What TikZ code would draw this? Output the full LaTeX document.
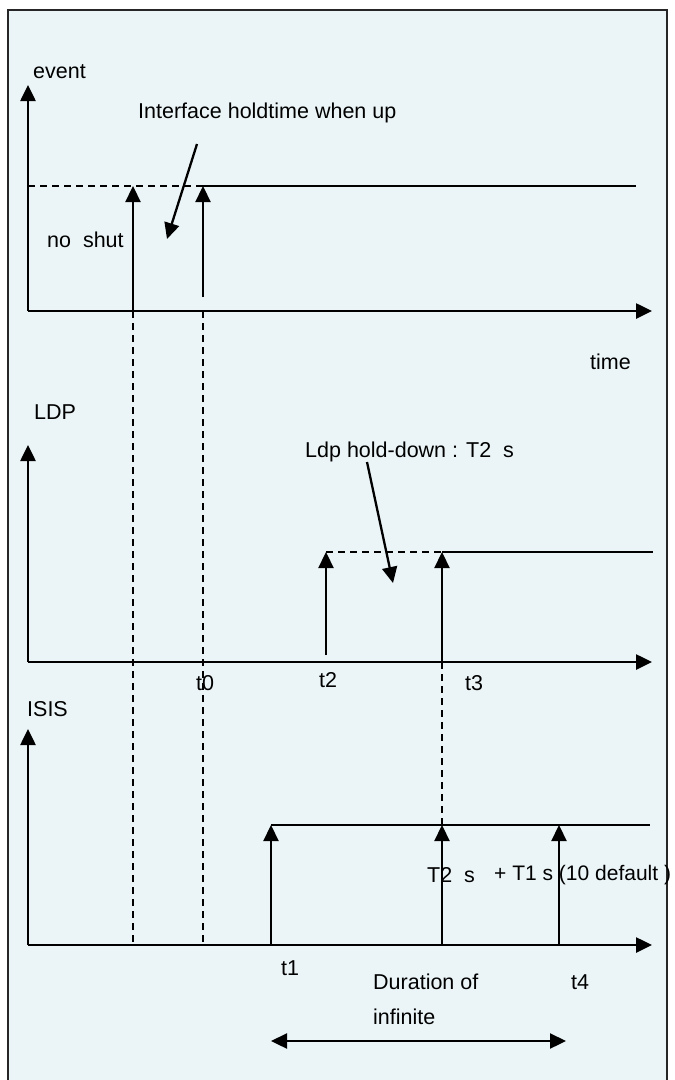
\documentclass[tikz,border=0pt]{standalone}
\usepackage{fontspec}
\setmainfont{Liberation Sans}
\usetikzlibrary{arrows.meta,positioning,calc}
\definecolor{panelbg}{RGB}{235,245,247}

\begin{document}
\begin{tikzpicture}[x=1pt,y=-1pt,
  lbl/.style={font=\fontsize{21.5}{25}\selectfont,inner sep=0pt},
  axis/.style={line width=2.6pt,-{Triangle[length=16pt,width=15pt]}},
  pulse/.style={line width=2.3pt,-{Triangle[length=16pt,width=15pt]}},
  level/.style={line width=1.7pt},
  guide/.style={line width=1.4pt,dash pattern=on 7pt off 5pt}]
\useasboundingbox (0,0) rectangle (675,1080);
\filldraw[fill=panelbg,draw=black!85,line width=2.2pt] (8,10) rectangle (667,1084);
% the three time axes
\foreach \n/\top/\base in {ev/85/311,ldp/445/662,isis/729/945}{
  \coordinate (\n-o) at (28,\base);
  \coordinate (\n-y) at (28,\top);
  \coordinate (\n-x) at (652,\base);
  \draw[axis] (\n-o) -- (\n-y);
  \draw[axis] (\n-o) -- (\n-x);}
\node[lbl,anchor=west] (ev-lbl) at (33,72) {event};
\node[lbl,anchor=west] (ldp-lbl) at (34,412) {LDP};
\node[lbl,anchor=west] (isis-lbl) at (27,709) {ISIS};
\node[lbl,anchor=west] (time-lbl) at (590,362) {time};

% event
\coordinate (ns-b) at (133,311);
\coordinate (ns-t) at (133,186);
\coordinate (ns-g) at (133,945);
\coordinate (up-o) at (203,311);
\coordinate (up-b) at (203,297);
\coordinate (up-t) at (203,186);
\coordinate (up-g) at (203,945);
\coordinate (ev-l) at (28,186);
\coordinate (ev-r) at (636,186);
\draw[guide] (ev-l) -- (up-t);
\draw[level] (up-t) -- (ev-r);
\draw[pulse] (ns-b) -- (ns-t);
\draw[pulse] (up-b) -- (up-t);
\draw[guide] (ns-b) -- (ns-g);
\draw[guide] (up-o) -- (up-g);
\node[lbl,anchor=west] (noshut) at (47,240) {no\ \ shut};
\node[lbl,anchor=west] (hold) at (138,113) {Interface holdtime when up};
\coordinate (hold-a) at (197,144);
\coordinate (hold-b) at (167,239);
\draw[pulse] (hold-a) -- (hold-b);

% LDP
\coordinate (t2-b) at (326,655);
\coordinate (t2-t) at (326,552);
\coordinate (t3-b) at (442,662);
\coordinate (t3-t) at (442,552);
\coordinate (t3-g) at (442,825);
\coordinate (ldp-r) at (653,552);
\draw[guide] (t2-t) -- (t3-t);
\draw[level] (t3-t) -- (ldp-r);
\draw[pulse] (t2-b) -- (t2-t);
\draw[pulse] (t3-b) -- (t3-t);
\draw[guide] (t3-b) -- (t3-g);
\node[lbl,anchor=west] (down) at (305,452) {Ldp hold-down : T2\ \ s};
\coordinate (down-a) at (367,462);
\coordinate (down-b) at (393,583);
\draw[pulse] (down-a) -- (down-b);
\node[lbl] (t0) at (205,683) {t0};
\node[lbl] (t2) at (328,680) {t2};
\node[lbl] (t3) at (474,683) {t3};

% ISIS
\node[lbl,anchor=west] (t2s) at (427,875) {T2\ \ s};
\node[lbl,anchor=west,font=\fontsize{21}{25}\selectfont] (t1s) at (494,875) {+ T1 s (10 default )};
\coordinate (t1-b) at (271,945);
\coordinate (t1-t) at (271,825);
\coordinate (i3-b) at (442,945);
\coordinate (t4-b) at (559,945);
\coordinate (t4-t) at (559,825);
\coordinate (isis-r) at (650,825);
\draw[level] (t1-t) -- (isis-r);
\draw[pulse] (t1-b) -- (t1-t);
\draw[pulse] (i3-b) -- (t3-g);
\draw[pulse] (t4-b) -- (t4-t);
\node[lbl] (t1) at (290,968) {t1};
\node[lbl] (t4) at (580,982) {t4};
\node[lbl,anchor=west] (dur) at (373,982) {Duration of};
\node[lbl,anchor=west] (inf) at (373,1017) {infinite};
\coordinate (dur-l) at (271,1041);
\coordinate (dur-r) at (566,1041);
\draw[line width=2.3pt,{Triangle[length=16pt,width=15pt]}-{Triangle[length=16pt,width=15pt]}] (dur-l) -- (dur-r);
\end{tikzpicture}
\end{document}
